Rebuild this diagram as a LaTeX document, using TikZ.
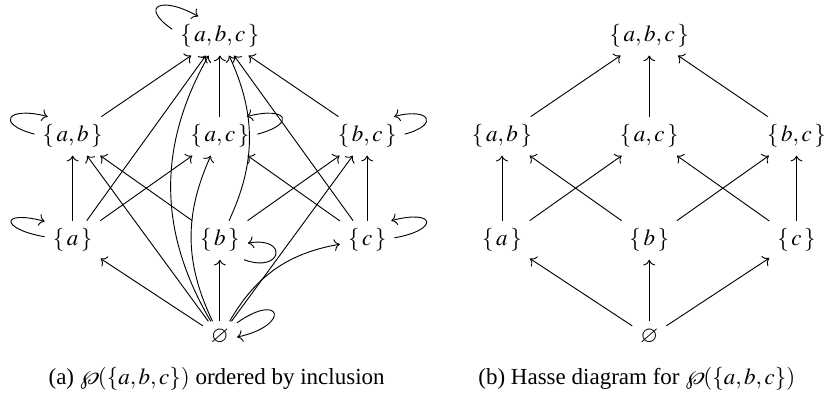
\documentclass[tikz,border=0pt]{standalone}
\usepackage{mathptmx}
\usepackage{amssymb}
\usepackage{fontspec}
\setmainfont{Liberation Serif}
\usetikzlibrary{arrows.meta}

\begin{document}
\begin{tikzpicture}[>=To,refl/.style={->,distance=#1}]
\useasboundingbox (-3.36,-0.87) rectangle (9.23,5.15);
% (a) the whole order, loops included
\node (e) at (0,0) {$\varnothing$};
\node (a) at (-2.25,1.48) {$\{\mkern2mu a\mkern2mu\}$};
\node (b) at (0,1.48) {$\{\mkern2mu b\mkern2mu\}$};
\node (c) at (2.25,1.48) {$\{\mkern2mu c\mkern2mu\}$};
\node (ab) at (-2.25,3.07) {$\{\mkern2mu a,b\mkern2mu\}$};
\node (ac) at (0,3.07) {$\{\mkern2mu a,c\mkern2mu\}$};
\node (bc) at (2.25,3.07) {$\{\mkern2mu b,c\mkern2mu\}$};
\node (abc) at (0,4.6) {$\{\mkern2mu a,b,c\mkern2mu\}$};
\draw[->] (e)--(a); \draw[->] (e)--(b); \draw[->] (e) to[bend left=25] (c);
\draw[->] (e)--(ab); \draw[->] (e) to[bend left=25] (ac); \draw[->] (e)--(bc);
\draw[->] (e) to[bend left=30] (abc);
\draw[->] (a)--(ab); \draw[->] (a)--(ac); \draw[->] (a)--(abc);
\draw[->] (b)--(ab); \draw[->] (b)--(bc); \draw[->] (b) to[bend right=25] (abc);
\draw[->] (c)--(ac); \draw[->] (c)--(bc); \draw[->] (c)--(abc);
\draw[->] (ab)--(abc); \draw[->] (ac)--(abc); \draw[->] (bc)--(abc);
\draw[refl=18pt] (abc.172) to[out=145,in=150] (abc.138);
\draw[refl=18pt] (ab.177) to[out=165,in=165] (ab.142);
\draw[refl=20pt] (a.173) to[out=170,in=165] (a.146);
\draw[refl=18pt] (ac.3) to[out=15,in=15] (ac.36);
\draw[refl=16pt] (bc.3) to[out=15,in=15] (bc.36);
\draw[refl=20pt] (c.5) to[out=10,in=15] (c.39);
\draw[refl=18pt] (b.-39) to[out=-20,in=10] (b.-6);
\draw[refl=24pt] (e.40) to[out=35,in=12] (e.0);
\node (capa) at (-0.05,-0.63) {(a) $\wp(\{a,b,c\})$ ordered by inclusion};

\begin{scope}[xshift=6.56cm]
% (b) covering pairs only
\node (he) at (0,0) {$\varnothing$};
\node (ha) at (-2.25,1.48) {$\{\mkern2mu a\mkern2mu\}$};
\node (hb) at (0,1.48) {$\{\mkern2mu b\mkern2mu\}$};
\node (hc) at (2.25,1.48) {$\{\mkern2mu c\mkern2mu\}$};
\node (hab) at (-2.25,3.07) {$\{\mkern2mu a,b\mkern2mu\}$};
\node (hac) at (0,3.07) {$\{\mkern2mu a,c\mkern2mu\}$};
\node (hbc) at (2.25,3.07) {$\{\mkern2mu b,c\mkern2mu\}$};
\node (habc) at (0,4.6) {$\{\mkern2mu a,b,c\mkern2mu\}$};
\draw[->] (he)--(ha); \draw[->] (he)--(hb); \draw[->] (he)--(hc);
\draw[->] (ha)--(hab); \draw[->] (ha)--(hac);
\draw[->] (hb)--(hab); \draw[->] (hb)--(hbc);
\draw[->] (hc)--(hac); \draw[->] (hc)--(hbc);
\draw[->] (hab)--(habc); \draw[->] (hac)--(habc); \draw[->] (hbc)--(habc);
\node (capb) at (-0.19,-0.63) {(b) Hasse diagram for $\wp(\{a,b,c\})$};
\end{scope}
\end{tikzpicture}
\end{document}
